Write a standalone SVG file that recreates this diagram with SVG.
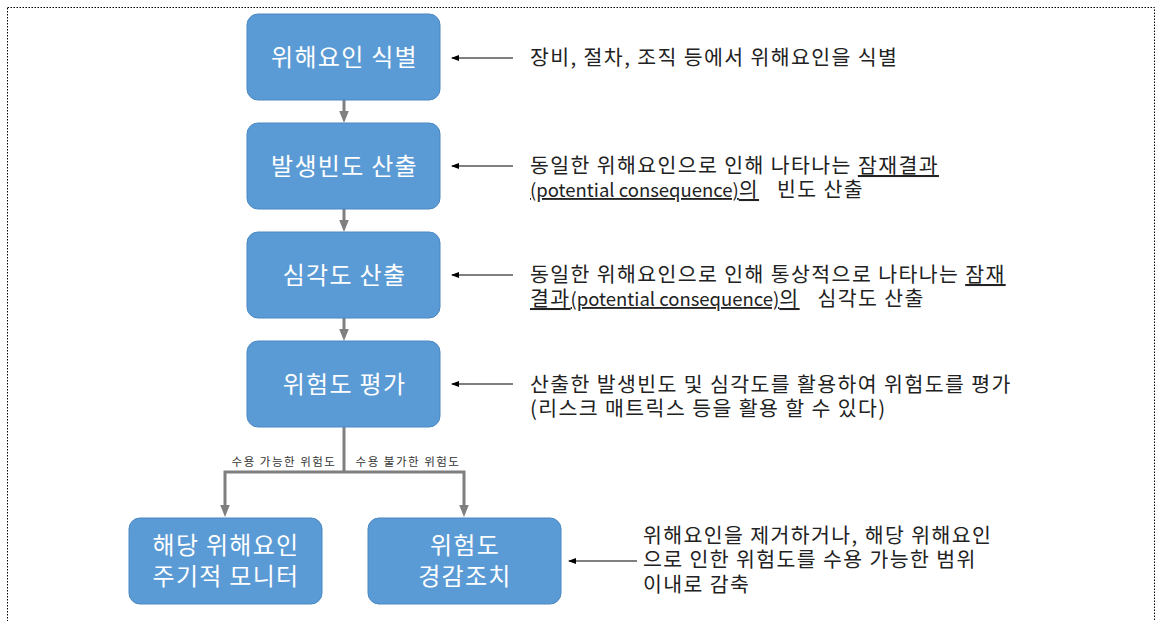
<svg xmlns="http://www.w3.org/2000/svg" width="1157" height="621" viewBox="0 0 1157 621">
<style>
.box{fill:#5B9BD5;stroke:#4A88C2;stroke-width:1}
.bt{font-family:"Noto Sans CJK KR","Noto Sans",sans-serif;font-size:24px;fill:#ffffff;text-anchor:middle;letter-spacing:1.3px}
.dt{font-family:"Noto Sans CJK KR","Noto Sans",sans-serif;font-size:20.5px;fill:#222222;letter-spacing:1.4px}
.lat{letter-spacing:0px;font-size:18.5px}
.lb{font-family:"Noto Sans CJK KR","Noto Sans",sans-serif;font-size:11.5px;fill:#333333;text-anchor:middle;letter-spacing:1.5px}
.flow{stroke:#7F7F7F;stroke-width:3;fill:none}
.ptr{stroke:#000000;stroke-width:1;fill:none}
.u{text-decoration:underline}
</style>
<defs>
<marker id="ga" markerWidth="4" markerHeight="4" refX="2" refY="2" orient="auto" markerUnits="strokeWidth" viewBox="0 0 4 4"><path d="M0,0.4 L4,2 L0,3.6 Z" fill="#7F7F7F"/></marker>
<marker id="ba" markerWidth="8" markerHeight="6" refX="7" refY="3" orient="auto" markerUnits="userSpaceOnUse" viewBox="0 0 8 6"><path d="M0,0 L8,3 L0,6 Z" fill="#000"/></marker>
</defs>
<rect x="7.5" y="7.5" width="1147" height="630" fill="#ffffff" stroke="#000" stroke-width="1" stroke-dasharray="1.5,1.5"/>
<g id="connectors">
<line class="flow" x1="344" y1="100" x2="344" y2="117" marker-end="url(#ga)"/>
<line class="flow" x1="344" y1="209" x2="344" y2="226" marker-end="url(#ga)"/>
<line class="flow" x1="344" y1="318" x2="344" y2="335" marker-end="url(#ga)"/>
<polyline class="flow" points="344,427 344,472"/>
<polyline class="flow" points="344,472 225,472 225,511" marker-end="url(#ga)"/>
<polyline class="flow" points="344,472 464,472 464,511" marker-end="url(#ga)"/>
<text class="lb" x="284" y="466">수용 가능한 위험도</text>
<text class="lb" x="408" y="466">수용 불가한 위험도</text>
<line class="ptr" x1="513" y1="58" x2="452" y2="58" marker-end="url(#ba)"/>
<line class="ptr" x1="513" y1="166" x2="452" y2="166" marker-end="url(#ba)"/>
<line class="ptr" x1="513" y1="275" x2="452" y2="275" marker-end="url(#ba)"/>
<line class="ptr" x1="513" y1="384" x2="452" y2="384" marker-end="url(#ba)"/>
<line class="ptr" x1="637" y1="561" x2="569" y2="561" marker-end="url(#ba)"/>
</g>
<g id="n1"><rect class="box" x="247" y="14" width="193" height="86" rx="11"/><text class="bt" x="344.5" y="66">위해요인 식별</text></g>
<g id="n2"><rect class="box" x="247" y="123" width="193" height="86" rx="11"/><text class="bt" x="344.5" y="175">발생빈도 산출</text></g>
<g id="n3"><rect class="box" x="247" y="232" width="193" height="86" rx="11"/><text class="bt" x="344.5" y="284">심각도 산출</text></g>
<g id="n4"><rect class="box" x="247" y="341" width="193" height="86" rx="11"/><text class="bt" x="344.5" y="393">위험도 평가</text></g>
<g id="n5"><rect class="box" x="129" y="518" width="193" height="86" rx="11"/><text class="bt" x="226" y="554">해당 위해요인</text><text class="bt" x="226" y="585">주기적 모니터</text></g>
<g id="n6"><rect class="box" x="368" y="518" width="193" height="86" rx="11"/><text class="bt" x="465" y="554">위험도</text><text class="bt" x="465" y="585">경감조치</text></g>
<g id="d1"><text class="dt" x="530" y="65">장비, 절차, 조직 등에서 위해요인을 식별</text></g>
<g id="d2"><text class="dt" x="530" y="173">동일한 위해요인으로 인해 나타나는 <tspan class="u">잠재결과</tspan></text><text class="dt" x="530" y="197"><tspan class="u"><tspan class="lat">(potential consequence)</tspan>의</tspan>&#160;&#160; 빈도 산출</text></g>
<g id="d3"><text class="dt" x="530" y="282">동일한 위해요인으로 인해 통상적으로 나타나는 <tspan class="u">잠재</tspan></text><text class="dt" x="530" y="306"><tspan class="u">결과<tspan class="lat">(potential consequence)</tspan>의</tspan>&#160;&#160; 심각도 산출</text></g>
<g id="d4"><text class="dt" x="530" y="392">산출한 발생빈도 및 심각도를 활용하여 위험도를 평가</text><text class="dt" x="530" y="416">(리스크 매트릭스 등을 활용 할 수 있다)</text></g>
<g id="d5"><text class="dt" x="643" y="543">위해요인을 제거하거나, 해당 위해요인</text><text class="dt" x="643" y="567">으로 인한 위험도를 수용 가능한 범위</text><text class="dt" x="643" y="592">이내로 감축</text></g>
</svg>
